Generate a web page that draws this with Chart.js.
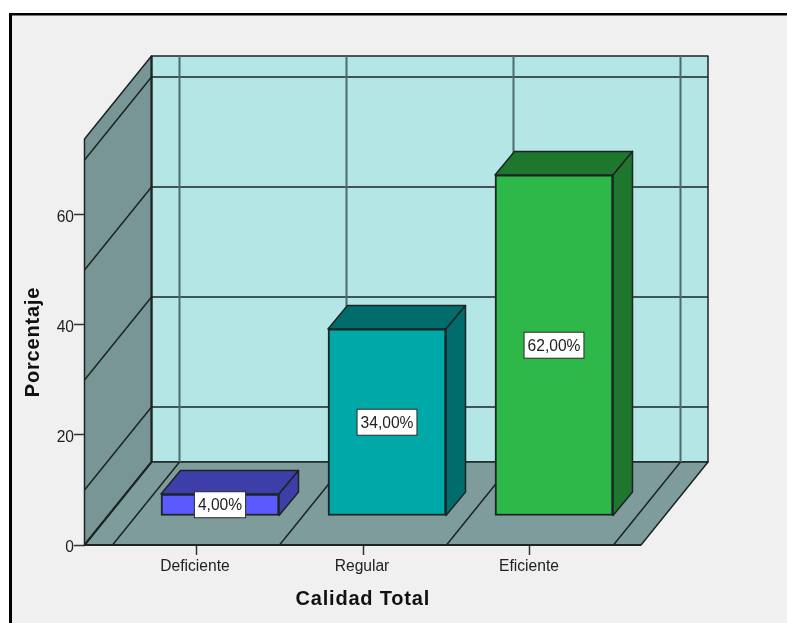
<!DOCTYPE html>
<html>
<head>
<meta charset="utf-8">
<title>Calidad Total</title>
<script src="https://cdn.jsdelivr.net/npm/chart.js@4/dist/chart.umd.min.js"></script>
<style>
  html, body { margin: 0; padding: 0; background: #fff; }
  #wrap { position: relative; width: 787px; height: 623px; }
</style>
</head>
<body>
<div id="wrap"><canvas id="qualityChart" width="787" height="623"></canvas></div>
<script>
const categories = ['Deficiente', 'Regular', 'Eficiente']
const percentages = [4, 34, 62]
const yTicks = [0, 20, 40, 60]
const gridLevels = [10, 30, 50, 70]
const categoryEdges = [-0.5, 0.5, 1.5, 2.5]

const frontColors = ['#5a5aff', '#00a8a8', '#2fb84a']
const shadeColors = ['#3e3eaa', '#006c6c', '#1f772e']

// box geometry, in px
const roomDepth = { x: 67, y: -83 }
const barOffset = { x: 24, y: -29 }
const barDepth = { x: 19.5, y: -23.5 }
const lineColor = '#1c2424'

function poly(ctx, points, fill) {
  ctx.beginPath()
  points.forEach((p, i) => i ? ctx.lineTo(p[0], p[1]) : ctx.moveTo(p[0], p[1]))
  ctx.closePath()
  if (fill) {
    ctx.fillStyle = fill
    ctx.fill()
  }
  ctx.stroke()
}

function segment(ctx, x1, y1, x2, y2) {
  ctx.beginPath()
  ctx.moveTo(x1, y1)
  ctx.lineTo(x2, y2)
  ctx.stroke()
}

const room = {
  id: 'room',
  beforeDraw(chart) {
    const ctx = chart.ctx
    ctx.save()
    ctx.fillStyle = '#f0f0f0'
    ctx.fillRect(11, 14, 776, 609)
    ctx.fillStyle = '#000'
    ctx.fillRect(9, 13, 778, 2.5)
    ctx.fillRect(9, 13, 3, 610)
    ctx.restore()
  },
  // walls and floor sit under the bars
  beforeDatasetsDraw(chart) {
    const ctx = chart.ctx
    const { left, right, top, bottom } = chart.chartArea
    const xs = chart.scales.x
    const ys = chart.scales.y
    const dx = roomDepth.x
    const dy = roomDepth.y

    ctx.save()
    ctx.lineWidth = 1.5
    ctx.strokeStyle = lineColor
    ctx.lineJoin = 'round'

    poly(ctx, [[left + dx, top + dy], [right + dx, top + dy], [right + dx, bottom + dy], [left + dx, bottom + dy]], '#b5e6e6')
    poly(ctx, [[left, top], [left + dx, top + dy], [left + dx, bottom + dy], [left, bottom]], '#789696')
    poly(ctx, [[left, bottom], [right, bottom], [right + dx, bottom + dy], [left + dx, bottom + dy]], '#7f9c9c')

    gridLevels.forEach(level => {
      const y = ys.getPixelForValue(level)
      segment(ctx, left, y, left + dx, y + dy)
      segment(ctx, left + dx, y + dy, right + dx, y + dy)
    })

    categoryEdges.forEach(edge => {
      const x = xs.getPixelForValue(edge)
      segment(ctx, x, bottom, x + dx, bottom + dy)
      ctx.save()
      ctx.lineWidth = 2
      ctx.strokeStyle = '#4d6a6c'
      segment(ctx, x + dx, bottom + dy, x + dx, top + dy)
      ctx.restore()
    })

    // front corner of the floor against the left wall
    ctx.lineWidth = 2
    segment(ctx, left, bottom, left + dx, bottom + dy)
    segment(ctx, left + dx, bottom + dy, left + dx, top + dy)
    segment(ctx, left, bottom, right, bottom)
    ctx.restore()
  },
  // the side and top faces go down first, the library then paints the front
  beforeDatasetDraw(chart, args) {
    const ctx = chart.ctx
    ctx.save()
    ctx.translate(barOffset.x, barOffset.y)
    ctx.lineWidth = 1.5
    ctx.strokeStyle = lineColor
    ctx.lineJoin = 'round'
    args.meta.data.forEach((bar, i) => {
      const { x, y, base, width } = bar.getProps(['x', 'y', 'base', 'width'], true)
      const l = x - width / 2
      const r = x + width / 2
      poly(ctx, [[l, y], [r, y], [r + barDepth.x, y + barDepth.y], [l + barDepth.x, y + barDepth.y]], shadeColors[i])
      poly(ctx, [[r, y], [r + barDepth.x, y + barDepth.y], [r + barDepth.x, base + barDepth.y], [r, base]], shadeColors[i])
    })
  },
  afterDatasetDraw(chart) {
    chart.ctx.restore()
  },
  afterDatasetsDraw(chart) {
    const ctx = chart.ctx
    const meta = chart.getDatasetMeta(0)
    ctx.save()
    ctx.font = '15.6px "Liberation Sans"'
    ctx.textAlign = 'center'
    ctx.textBaseline = 'middle'
    meta.data.forEach((bar, i) => {
      const { x, y, base } = bar.getProps(['x', 'y', 'base'], true)
      const cx = x + barOffset.x
      const cy = (y + base) / 2 + barOffset.y
      const text = percentages[i].toFixed(2).replace('.', ',') + '%'
      const w = ctx.measureText(text).width + 7
      const h = 26
      ctx.fillStyle = '#fff'
      ctx.strokeStyle = '#2a2a2a'
      ctx.lineWidth = 1
      ctx.fillRect(cx - w / 2, cy - h / 2, w, h)
      ctx.strokeRect(cx - w / 2, cy - h / 2, w, h)
      ctx.fillStyle = '#222'
      ctx.fillText(text, cx, cy + 1)
    })

    // axis titles are letter-spaced, which the scale title option can't do
    ctx.font = 'bold 20px "Liberation Sans"'
    ctx.letterSpacing = '0.8px'
    ctx.fillStyle = '#111'
    const area = chart.chartArea
    ctx.fillText('Calidad Total', (area.left + area.right) / 2, 599)
    ctx.translate(33, (area.top + area.bottom) / 2)
    ctx.rotate(-Math.PI / 2)
    ctx.fillText('Porcentaje', 0, 0)
    ctx.restore()
  }
}

new Chart(document.getElementById('qualityChart'), {
  type: 'bar',
  data: {
    datasets: [{
      data: percentages.map((v, i) => ({ x: i, y: v })),
      backgroundColor: frontColors,
      borderColor: lineColor,
      borderWidth: 2,
      borderSkipped: false,
      barThickness: 118
    }]
  },
  plugins: [room],
  options: {
    responsive: false,
    animation: false,
    layout: { padding: { top: 139, right: 146 } },
    plugins: { legend: { display: false }, tooltip: { enabled: false } },
    scales: {
      x: {
        type: 'linear',
        offset: false,
        min: -0.6677,
        max: 2.6647,
        afterBuildTicks: s => { s.ticks = categories.map((c, i) => ({ value: i })) },
        afterFit: s => { s.height = 78 },
        grid: { offset: false, drawOnChartArea: false, drawTicks: true, tickLength: 10, tickColor: '#333', tickWidth: 1.5 },
        border: { display: false },
        ticks: {
          autoSkip: false,
          maxRotation: 0,
          padding: 2,
          labelOffset: -1,
          color: '#222',
          font: { family: '"Liberation Sans"', size: 15.6 },
          callback: v => categories[v]
        }
      },
      y: {
        min: 0,
        max: 73.8,
        afterBuildTicks: s => { s.ticks = yTicks.map(v => ({ value: v })) },
        afterFit: s => { s.width = 84.5 },
        grid: { drawOnChartArea: false, drawTicks: true, tickLength: 10.5, tickColor: '#333', tickWidth: 1.5 },
        border: { display: false },
        ticks: {
          padding: 0,
          labelOffset: 3,
          color: '#222',
          font: { family: '"Liberation Sans"', size: 15.6 }
        }
      }
    }
  }
})
</script>
</body>
</html>
